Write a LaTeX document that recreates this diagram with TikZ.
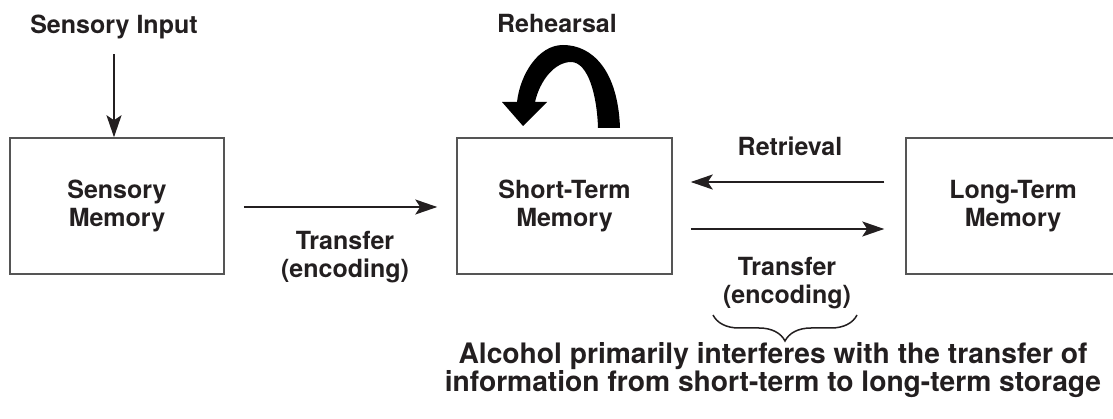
\documentclass[tikz,border=0pt]{standalone}
\usepackage{fontspec}
\setmainfont{TeX Gyre Heros}
\usetikzlibrary{arrows.meta,decorations.pathreplacing}
\definecolor{ink}{HTML}{231F20}
\definecolor{boxline}{HTML}{555555}
\begin{document}
\begin{tikzpicture}[x=1pt,y=-1pt,
  every node/.style={text=ink,font=\fontsize{25}{28}\selectfont\bfseries,align=center,inner sep=0pt},
  membox/.style={draw=boxline,line width=1.5pt,minimum width=214pt,minimum height=136pt},
  arr/.style={draw=ink,line width=2pt,-{Stealth[length=22pt,width=15pt,inset=5pt]}},
  notefont/.style={font=\fontsize{28.2}{28}\selectfont\bfseries}]
\clip (0,0) rectangle (1113,419);
\fill[white] (0,0) rectangle (1113,419);
% boxes
\node[membox] (sm) at (117,206) {Sensory\\Memory};
\node[membox,minimum width=215pt] (stm) at (564.5,206) {Short-Term\\Memory};
\node[membox] (ltm) at (1013,206) {Long-Term\\Memory};
% labels
\node (sinput) at (114,27) {Sensory Input};
\node (reh) at (557,24) {Rehearsal};
\node (ret) at (790,146) {Retrieval};
\node (tr1) at (345,257) {Transfer\\(encoding)};
\node (tr2) at (787,283) {Transfer\\(encoding)};
\node[notefont] (note) at (773,370) {Alcohol primarily interferes with the transfer of\\information from short-term to long-term storage};
% connectors
\draw[arr,shorten <=15pt] (sinput.south) -- (sinput.south |- sm.north);
\draw[arr,shorten <=19pt,shorten >=19pt] ([yshift=-1pt]sm.east) -- ([yshift=-1pt]stm.west);
\draw[arr,shorten <=21pt,shorten >=18pt] ([yshift=24pt]ltm.west) -- ([yshift=24pt]stm.east);
\draw[arr,shorten <=18pt,shorten >=21pt] ([yshift=-23pt]stm.east) -- ([yshift=-23pt]ltm.west);
% rehearsal loop arrow
\fill[black] (620,128) .. controls (618,70) and (592,45) .. (563,45)
  .. controls (538,45) and (520,75) .. (517,102) -- (502,102) -- (523,126) -- (547,102) -- (535,102)
  .. controls (540,80) and (555,62) .. (571,62)
  .. controls (588,62) and (597,95) .. (598,128) -- cycle;
% brace
\coordinate (bl) at (713,315);
\coordinate (br) at (857,315);
\draw[ink,line width=1.5pt,decorate,decoration={brace,amplitude=26pt,aspect=0.5}] (br) -- (bl);
\end{tikzpicture}
\end{document}
